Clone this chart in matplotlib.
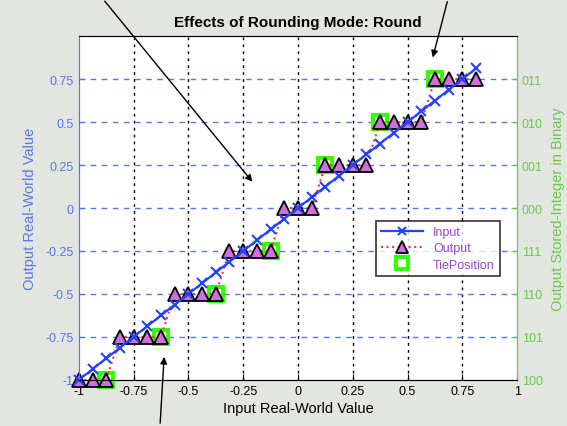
import numpy as np
import matplotlib.pyplot as plt

# data
input_vals = [-1, -0.9375, -0.875, -0.8125, -0.75, -0.6875, -0.625, -0.5625,
              -0.5, -0.4375, -0.375, -0.3125, -0.25, -0.1875, -0.125, -0.0625,
              0, 0.0625, 0.125, 0.1875, 0.25, 0.3125, 0.375, 0.4375,
              0.5, 0.5625, 0.625, 0.6875, 0.75, 0.8125]
output_vals = [-1, -1, -1, -0.75, -0.75, -0.75, -0.75, -0.5,
               -0.5, -0.5, -0.5, -0.25, -0.25, -0.25, -0.25, 0,
               0, 0, 0.25, 0.25, 0.25, 0.25, 0.5, 0.5,
               0.5, 0.5, 0.75, 0.75, 0.75, 0.75]
tie_x = [-0.875, -0.625, -0.375, -0.125, 0.125, 0.375, 0.625]
tie_y = [-1, -0.75, -0.5, -0.25, 0.25, 0.5, 0.75]

xticks = [-1, -0.75, -0.5, -0.25, 0, 0.25, 0.5, 0.75, 1]
xtick_labels = ['-1', '-0.75', '-0.5', '-0.25', '0', '0.25', '0.5', '0.75', '1']
yticks = [-1, -0.75, -0.5, -0.25, 0, 0.25, 0.5, 0.75]
ytick_labels = ['-1', '-0.75', '-0.5', '-0.25', '0', '0.25', '0.5', '0.75']
bin_labels = ['100', '101', '110', '111', '000', '001', '010', '011']

blue_ax = '#5577ee'
green_ax = '#66cc44'

plt.rcParams['font.family'] = ['Liberation Sans', 'DejaVu Sans']
plt.rcParams['font.size'] = 9

fig = plt.figure(figsize=(5.67, 4.27), dpi=100, facecolor='#e2e5e0')
ax = fig.add_axes([0.139, 0.108, 0.773, 0.805])
ax.set_facecolor('white')

ax.plot(tie_x, tie_y, 's', ms=9.5, mfc='none', mec='#33ff00', mew=3,
        label='TiePosition', zorder=2, clip_on=False)
ax.plot(input_vals, output_vals, ':', color='#ff3333', lw=1.5, marker='^',
        ms=9.5, mfc='#d070e0', mec='black', mew=1.3, label='Output', zorder=3,
        clip_on=False)
ax.plot(input_vals, input_vals, '-', color='#2244ff', lw=1.6, marker='x',
        ms=7, mew=1.5, label='Input', zorder=4, clip_on=False)

ax.set_xlim(-1, 1)
ax.set_ylim(-1, 1)
ax.set_xticks(xticks)
ax.set_xticklabels(xtick_labels)
ax.set_yticks(yticks)
ax.set_yticklabels(ytick_labels)
ax.tick_params(axis='x', direction='in', colors='black', length=4)
ax.tick_params(axis='y', direction='in', colors=blue_ax, length=4)

# grid: vertical black dotted, horizontal blue dashed
for xv in xticks[1:-1]:
    ax.axvline(xv, color='black', ls=(0, (2, 3)), lw=1, zorder=1)
for yv in yticks[1:]:
    ax.axhline(yv, color=blue_ax, ls=(0, (4, 4)), lw=1, zorder=1)

ax.spines['left'].set_color(blue_ax)
ax.spines['right'].set_color(green_ax)
ax.spines['top'].set_color('black')
ax.spines['bottom'].set_color('black')

ax.set_xlabel('Input Real-World Value', fontsize=10.5, labelpad=3)
ax.set_ylabel('Output Real-World Value', fontsize=10.5, color=blue_ax, labelpad=6)
ax.set_title('Effects of Rounding Mode: Round', fontsize=11, fontweight='bold', pad=7)

ax2 = ax.twinx()
ax2.set_ylim(-1, 1)
ax2.set_yticks(yticks)
ax2.set_yticklabels(bin_labels)
ax2.tick_params(axis='y', direction='in', colors=green_ax, length=4)
ax2.spines['right'].set_color(green_ax)
ax2.spines['left'].set_color(blue_ax)
ax2.set_ylabel('Output Stored-Integer in Binary', fontsize=10.5, color=green_ax, labelpad=6)

handles, labels = ax.get_legend_handles_labels()
order = [2, 1, 0]
leg = ax.legend([handles[i] for i in order], [labels[i] for i in order],
                loc='lower right', bbox_to_anchor=(0.975, 0.285), fancybox=False,
                edgecolor='black', fontsize=9, handlelength=3.4, borderpad=0.4,
                labelspacing=0.35, handletextpad=0.8, markerscale=0.9)
for t in leg.get_texts():
    t.set_color('#9944cc')
leg.get_frame().set_linewidth(1.2)
leg.set_zorder(10)

# annotation arrows from outside the axes
arrow = dict(arrowstyle='-|>', color='black', lw=1, mutation_scale=10)
ax.annotate('', xy=(-0.2, 0.14), xytext=(103 / 567, 1.0),
            textcoords='figure fraction', arrowprops=arrow, annotation_clip=False)
ax.annotate('', xy=(0.612, 0.86), xytext=(448 / 567, 1.0),
            textcoords='figure fraction', arrowprops=arrow, annotation_clip=False)
ax.annotate('', xy=(-0.61, -0.85), xytext=(160 / 567, 0.0),
            textcoords='figure fraction', arrowprops=arrow, annotation_clip=False)

plt.savefig('out.png', dpi=100, facecolor=fig.get_facecolor())
